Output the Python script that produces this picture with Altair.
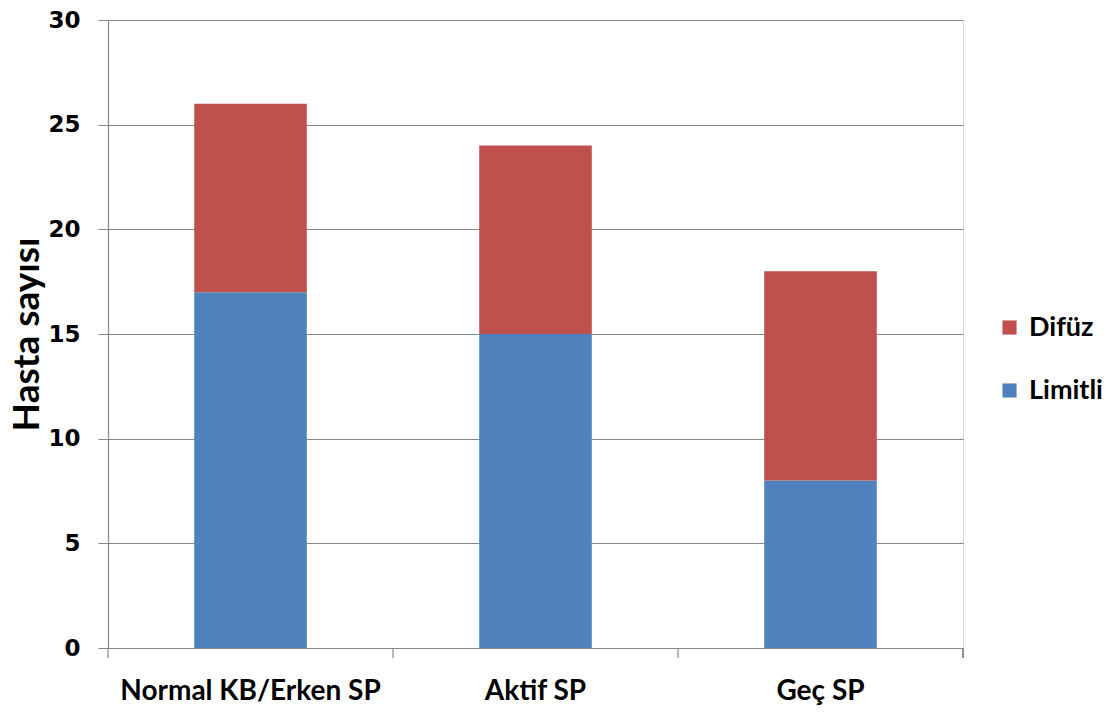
import altair as alt
import pandas as pd

categories = ["Normal KB/Erken SP", "Aktif SP", "Geç SP"]
limitli = [17, 15, 8]
difuz = [9, 9, 10]
series = ["Difüz", "Limitli"]
colors = ["#C0504D", "#4F81BD"]

rows = []
for c, l, d in zip(categories, limitli, difuz):
    rows.append({"cat": c, "seri": "Limitli", "val": l, "ord": 0})
    rows.append({"cat": c, "seri": "Difüz", "val": d, "ord": 1})
df = pd.DataFrame(rows)

W, H = 855, 628
FONT = "Lato"

xenc = alt.X("cat:N", sort=categories, title=None,
             scale=alt.Scale(paddingInner=0, paddingOuter=0),
             axis=alt.Axis(ticks=False, labelAngle=0, labelFont=FONT, labelFontSize=28,
                           labelFontWeight="bold", labelColor="#000", labelPadding=29,
                           labelLimit=0,
                           domainColor="#888", domainWidth=1.2, grid=False))

bars = alt.Chart(df).mark_bar(width=alt.RelativeBandSize(0.395)).encode(
    x=xenc,
    y=alt.Y("val:Q", stack="zero", title="Hasta sayısı",
            scale=alt.Scale(domain=[0, 30], nice=False),
            axis=alt.Axis(values=[0, 5, 10, 15, 20, 25, 30], tickSize=10, tickColor="#888",
                          domainColor="#888", domainWidth=1.2, gridColor="#888", gridWidth=1,
                          labelFont="DejaVu Sans", labelFontSize=23, labelFontWeight="bold",
                          labelColor="#000", labelPadding=18,
                          titleFont=FONT, titleFontSize=37, titleFontWeight="bold",
                          titleColor="#000", titlePadding=1)),
    color=alt.Color("seri:N", scale=alt.Scale(domain=series, range=colors),
                    legend=alt.Legend(title=None, orient="none", legendX=888, legendY=294,
                                      symbolType="square", symbolSize=200, symbolStrokeWidth=0,
                                      labelFont=FONT, labelFontSize=27, labelFontWeight="bold",
                                      labelColor="#000", rowPadding=35, labelOffset=6)),
    order=alt.Order("ord:Q"),
)

tick_df = pd.DataFrame({"cat": categories})
ticks = alt.Chart(tick_df).mark_rule(color="#888", strokeWidth=1.2).encode(
    x=alt.X("cat:N", sort=categories, bandPosition=0),
    y=alt.value(H), y2=alt.value(H + 10),
)
last_tick = alt.Chart(tick_df).mark_rule(color="#888", strokeWidth=1.2).encode(
    x=alt.value(W), y=alt.value(H), y2=alt.value(H + 10),
)

chart = alt.layer(bars, ticks, last_tick).properties(
    width=W, height=H,
    autosize=alt.AutoSizeParams(type="none"),
    padding={"left": 108, "top": 20, "right": 153, "bottom": 67},
).configure_view(stroke=None).configure(background="white")

chart.save("out.html", embed_options={"renderer": "svg", "actions": False})
